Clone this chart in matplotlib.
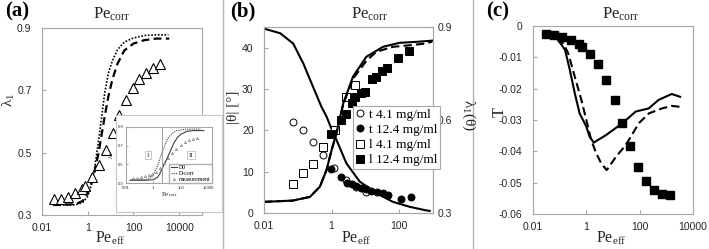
import matplotlib
matplotlib.use('Agg')
import matplotlib.pyplot as plt
from matplotlib.ticker import FixedLocator, FixedFormatter, NullLocator
from matplotlib.patches import Rectangle
from matplotlib.lines import Line2D

# ---------------- data ----------------
# panel (a): lambda_1 vs Pe_eff
a_meas_x = [0.0335, 0.068, 0.142, 0.278, 0.54, 0.76, 1.49, 3.1, 6.3, 12.3, 24, 47, 93, 181, 355, 740, 1450]
a_meas_y = [0.350, 0.352, 0.359, 0.370, 0.383, 0.394, 0.423, 0.460, 0.509, 0.564, 0.621, 0.669, 0.707, 0.736, 0.757, 0.773, 0.783]
a_dot_x = [0.03, 0.1, 0.3, 0.6, 1.0, 1.5, 2.0, 3.0, 4.0, 5.5, 8, 12, 20, 40, 100, 300, 1000, 3400]
a_dot_y = [0.332, 0.332, 0.333, 0.340, 0.360, 0.400, 0.450, 0.540, 0.610, 0.690, 0.755, 0.795, 0.830, 0.855, 0.868, 0.876, 0.878, 0.878]
a_dash_x = [0.03, 0.1, 0.3, 0.6, 1.0, 1.5, 2.0, 3.0, 4.0, 5.5, 8, 12, 20, 40, 100, 300, 1000, 3700]
a_dash_y = [0.332, 0.333, 0.335, 0.345, 0.370, 0.405, 0.440, 0.500, 0.555, 0.615, 0.680, 0.735, 0.785, 0.828, 0.850, 0.861, 0.866, 0.866]
# inset of (a): lambda_1 vs Pe_corr
i_d0_x = [0.02, 0.3, 1, 2, 3, 5, 10, 20, 30, 60, 100, 300, 1000, 5000]
i_d0_y = [0.330, 0.330, 0.335, 0.360, 0.400, 0.470, 0.560, 0.660, 0.720, 0.790, 0.820, 0.855, 0.862, 0.862]
i_dc_x = [0.02, 0.3, 0.7, 1, 2, 3, 5, 10, 15, 30, 50, 200, 1000, 3000]
i_dc_y = [0.330, 0.335, 0.360, 0.390, 0.480, 0.560, 0.650, 0.760, 0.800, 0.840, 0.860, 0.875, 0.878, 0.878]
i_meas_x = [0.03, 0.06, 0.12, 0.25, 0.5, 0.8, 1.5, 3, 6, 12, 25, 50, 100, 200, 400, 800, 1500]
i_meas_y = [0.350, 0.352, 0.359, 0.370, 0.383, 0.394, 0.423, 0.460, 0.509, 0.564, 0.621, 0.669, 0.707, 0.736, 0.757, 0.773, 0.783]
i_split_x = 4
i_regions = ['I', 'II']
i_region_x = [0.39, 575]

# panel (b): |theta| (left) and lambda_1(theta) (right) vs Pe_eff
t41_x = [0.07, 0.14, 0.28, 0.55, 1.2, 2.6, 5.4, 10.5]
t41_y = [21.9, 20.0, 17.2, 14.0, 11.0, 8.0, 6.2, 5.0]
t124_x = [0.95, 1.95, 2.9, 3.9, 5.4, 7.6, 10.3, 15, 22, 33, 46, 110, 220]
t124_y = [10.6, 8.6, 7.3, 7.0, 6.5, 6.0, 5.7, 5.4, 5.2, 4.8, 4.4, 3.3, 3.8]
l41_x = [0.07, 0.14, 0.28, 0.56, 1.25, 2.7, 5.0]
l41_y = [7.1, 9.6, 11.8, 15.9, 20.2, 28.0, 31.0]
l124_x = [0.95, 1.9, 2.6, 3.9, 5.0, 7.5, 9.8, 16, 21, 30, 45, 90, 200]
l124_y = [19.1, 22.6, 24.0, 26.5, 28.0, 29.0, 29.3, 32.3, 32.8, 34.3, 35.0, 37.6, 39.2]
b_theta_x = [0.01, 0.03, 0.073, 0.145, 0.28, 0.5, 0.71, 1.0, 1.39, 2.75, 6.8, 21, 65, 204, 570, 800]
b_theta_y = [44.6, 43.5, 41.0, 36.2, 30.6, 25.7, 23.3, 20.3, 17.7, 12.0, 7.6, 4.8, 2.7, 1.5, 0.7, 0.5]
b_lam_x = [0.01, 0.07, 0.23, 0.45, 0.71, 1.0, 1.39, 2.2, 4.3, 10.7, 33, 102, 316, 950]
b_lam_y = [0.336, 0.340, 0.352, 0.385, 0.439, 0.503, 0.557, 0.653, 0.740, 0.804, 0.836, 0.849, 0.852, 0.856]
b_lamd_x = [0.01, 0.07, 0.23, 0.45, 0.71, 1.0, 1.39, 2.2, 4.3, 10.7, 21, 65, 204, 630, 950]
b_lamd_y = [0.336, 0.340, 0.352, 0.385, 0.439, 0.503, 0.557, 0.650, 0.733, 0.791, 0.820, 0.836, 0.841, 0.847, 0.853]
b_labels = ['t 4.1 mg/ml', 't 12.4 mg/ml', 'l 4.1 mg/ml', 'l 12.4 mg/ml']

# panel (c): T vs Pe_eff
c_meas_x = [0.031, 0.062, 0.125, 0.255, 0.51, 0.69, 1.41, 2.78, 5.5, 11.5, 22.7, 44, 86, 175, 345, 690, 1360]
c_meas_y = [-0.0025, -0.0029, -0.0034, -0.0045, -0.0057, -0.0066, -0.0089, -0.0122, -0.0173, -0.0236, -0.0311, -0.0383, -0.0449, -0.0496, -0.0523, -0.0536, -0.0538]
c_sol_x = [0.031, 0.066, 0.12, 0.16, 0.24, 0.37, 0.56, 1.0, 1.32, 1.9, 5.5, 22.7, 71, 219, 510, 1590, 3300]
c_sol_y = [-0.0022, -0.0032, -0.0061, -0.0077, -0.0140, -0.0215, -0.0279, -0.0321, -0.0353, -0.0372, -0.0348, -0.0310, -0.0273, -0.0263, -0.0236, -0.0217, -0.0226]
c_dash_x = [0.031, 0.066, 0.136, 0.21, 0.37, 0.65, 1.0, 1.53, 2.34, 3.6, 5.8, 13, 30, 94, 220, 690, 1600, 3300]
c_dash_y = [-0.0022, -0.0032, -0.0055, -0.0087, -0.0162, -0.0236, -0.0300, -0.0364, -0.0406, -0.0438, -0.0460, -0.0417, -0.0380, -0.0310, -0.0279, -0.0263, -0.0255, -0.0258]

x_ticks_a = [0.01, 1, 100, 10000]
x_ticklabels_a = ['0.01', '1', '100', '10000']
x_ticks_b = [0.01, 1, 100]
x_ticklabels_b = ['0.01', '1', '100']

# ---------------- style ----------------
plt.rcParams['font.family'] = ['Liberation Sans', 'DejaVu Sans']
plt.rcParams['mathtext.fontset'] = 'custom'
plt.rcParams['mathtext.rm'] = 'Liberation Serif'
plt.rcParams['mathtext.it'] = 'Liberation Serif:italic'
SERIF = ['Liberation Serif', 'DejaVu Serif']
GRAY = '#a6a6a6'
TXT = '#262626'

W, H = 709, 249
fig = plt.figure(figsize=(W / 100, H / 100), dpi=100)


def rect(l, r, t, b):
    return [l / W, 1 - b / H, (r - l) / W, (b - t) / H]


def ftext(x, y, s, **kw):
    fig.text(x / W, 1 - y / H, s, **kw)


def style(ax, xt, xtl, yt, ytl, lsize=7.5, pad=7.5, xpad=5.5):
    ax.set_xscale('log')
    ax.xaxis.set_major_locator(FixedLocator(xt))
    ax.xaxis.set_major_formatter(FixedFormatter(xtl))
    ax.xaxis.set_minor_locator(NullLocator())
    ax.yaxis.set_major_locator(FixedLocator(yt))
    ax.yaxis.set_major_formatter(FixedFormatter(ytl))
    ax.yaxis.set_minor_locator(NullLocator())
    for s in ax.spines.values():
        s.set_color(GRAY)
        s.set_linewidth(0.8)
    ax.tick_params(direction='in', length=3, color=GRAY, labelsize=lsize,
                   labelcolor=TXT, pad=pad)
    ax.tick_params(axis='x', pad=xpad)


# ---------------- panel (a) ----------------
ax_a = fig.add_axes(rect(42, 202, 28, 215))
ax_a.plot(a_dot_x, a_dot_y, color='black', lw=1.2, ls=(0, (1, 1)))
ax_a.plot(a_dash_x, a_dash_y, color='black', lw=1.6, ls=(0, (3.5, 2)))
ax_a.plot(a_meas_x, a_meas_y, ls='none', marker='^', ms=6.5, mfc='white',
          mec='black', mew=0.8)
ax_a.set_xlim(0.01, 1e5)
ax_a.set_ylim(0.3, 0.9)
style(ax_a, x_ticks_a, x_ticklabels_a, [0.3, 0.5, 0.7, 0.9],
      ['0.3', '0.5', '0.7', '0.9'])

# inset of (a)
fig.patches.append(Rectangle((116 / W, 1 - 212 / H), 106 / W, 97 / H,
                             transform=fig.transFigure, facecolor='white',
                             edgecolor='#c8c8c8', lw=0.8, zorder=5))
ax_i = fig.add_axes(rect(126, 212, 127, 183), zorder=6)
ax_i.plot(i_d0_x, i_d0_y, color='#404040', lw=0.8, label='D0')
ax_i.plot(i_dc_x, i_dc_y, color='#404040', lw=0.8, ls=(0, (1, 1)), label='D-corr')
ax_i.plot(i_meas_x, i_meas_y, ls='none', marker='^', ms=1.6, mfc='white',
          mec='#606060', mew=0.4, label='measurement')
ax_i.axvline(i_split_x, color='#909090', lw=0.6)
ax_i.set_xlim(0.01, 2e4)
ax_i.set_ylim(0.3, 0.9)
style(ax_i, x_ticks_a, x_ticklabels_a, [0.3, 0.5, 0.7, 0.9],
      ['0.3', '0.5', '0.7', '0.9'], lsize=3, pad=2, xpad=2)
ax_i.tick_params(length=1.5)
ax_i.set_xlabel('Pe$_{\\rm corr}$', fontsize=5, family=SERIF, labelpad=0, color=TXT)
ax_i.set_ylabel('λ$_1$', fontsize=5, family=SERIF, labelpad=1, color=TXT)
box = dict(boxstyle='square,pad=0.25', fc='white', ec='#b0b0b0', lw=0.5)
for rx, rs in zip(i_region_x, i_regions):
    ax_i.text(rx, 0.6, rs, fontsize=5, family=SERIF, ha='center', va='center',
              bbox=box, color=TXT)
ax_i.legend(loc='lower right', prop={'family': SERIF, 'size': 4.2},
            handlelength=1.1, handletextpad=0.3, borderpad=0.25,
            labelspacing=0.1, frameon=True, fancybox=False,
            edgecolor='#b0b0b0', borderaxespad=0.0, framealpha=1)

# ---------------- panel (b) ----------------
ax_b = fig.add_axes(rect(264, 433, 27, 213))
ax_b.plot(b_theta_x, b_theta_y, color='black', lw=1.5)
ax_b.plot(t41_x, t41_y, ls='none', marker='o', ms=5, mfc='white', mec='black',
          mew=0.7, label=b_labels[0])
ax_b.plot(t124_x, t124_y, ls='none', marker='o', ms=5, mfc='black', mec='black',
          mew=0.7, label=b_labels[1])
ax_b.plot(l41_x, l41_y, ls='none', marker='s', ms=5.5, mfc='white', mec='black',
          mew=0.7, label=b_labels[2])
ax_b.plot(l124_x, l124_y, ls='none', marker='s', ms=5.5, mfc='black', mec='black',
          mew=0.7, label=b_labels[3])
ax_b.set_xlim(0.01, 1000)
ax_b.set_ylim(0, 45)
style(ax_b, x_ticks_b, x_ticklabels_b, [0, 10, 20, 30, 40],
      ['0', '10', '20', '30', '40'])
ax_b2 = ax_b.twinx()
ax_b2.plot(b_lam_x, b_lam_y, color='black', lw=1.5)
ax_b2.plot(b_lamd_x, b_lamd_y, color='black', lw=1.5, ls=(0, (4, 2)))
ax_b2.set_ylim(0.3, 0.9)
ax_b2.yaxis.set_major_locator(FixedLocator([0.3, 0.6, 0.9]))
ax_b2.yaxis.set_major_formatter(FixedFormatter(['0.3', '0.6', '0.9']))
ax_b2.yaxis.set_minor_locator(NullLocator())
for s in ax_b2.spines.values():
    s.set_color(GRAY)
    s.set_linewidth(0.8)
ax_b2.tick_params(direction='in', length=3, color=GRAY, labelsize=7.5,
                  labelcolor=TXT, pad=3)
leg = ax_b2.legend(*ax_b.get_legend_handles_labels(), loc='upper left',
                   bbox_to_anchor=(353 / W, 1 - 106 / H),
                   bbox_transform=fig.transFigure,
                   prop={'family': SERIF, 'size': 9.5}, handlelength=0.7,
                   handletextpad=0.3, borderpad=0.2, labelspacing=0.22,
                   frameon=True, fancybox=False, edgecolor=GRAY,
                   framealpha=1, borderaxespad=0)
leg.get_frame().set_linewidth(0.8)

# ---------------- panel (c) ----------------
ax_c = fig.add_axes(rect(533, 693, 26, 214))
ax_c.plot(c_sol_x, c_sol_y, color='black', lw=1.5)
ax_c.plot(c_dash_x, c_dash_y, color='black', lw=1.5, ls=(0, (4, 2)))
ax_c.plot(c_meas_x, c_meas_y, ls='none', marker='s', ms=6, mfc='black',
          mec='black')
ax_c.set_xlim(0.01, 10000)
ax_c.set_ylim(-0.06, 0)
style(ax_c, x_ticks_a, x_ticklabels_a,
      [0, -0.01, -0.02, -0.03, -0.04, -0.05, -0.06],
      ['0', '-0.01', '-0.02', '-0.03', '-0.04', '-0.05', '-0.06'])

# ---------------- separators ----------------
for xs in (223, 473):
    fig.add_artist(Line2D([xs / W, xs / W], [0, 1], transform=fig.transFigure,
                          color='#b4b4b4', lw=1.0))

# ---------------- texts ----------------
for x, s in ((17, '(a)'), (243, '(b)'), (498, '(c)')):
    ftext(x, 11, s, fontsize=15, fontweight='bold', family=SERIF,
          ha='center', va='center', color='black')
for x in (112, 370, 621):
    ftext(x, 14, 'Pe$_{\\rm corr}$', fontsize=12, family=SERIF,
          ha='center', va='center', color=TXT)
for x in (110, 356, 611):
    ftext(x, 238, 'Pe$_{\\rm eff}$', fontsize=11.5, family=SERIF,
          ha='center', va='center', color=TXT)
ftext(9, 100, 'λ$_1$', fontsize=11, family=SERIF, rotation=90,
      ha='center', va='center', color=TXT)
ftext(233, 107, '|θ| [°]', fontsize=11, family=SERIF, rotation=90,
      ha='center', va='center', color=TXT)
ftext(469, 115, 'λ$_1$(θ)', fontsize=11, family=SERIF, rotation=-90,
      ha='center', va='center', color=TXT)
ftext(500, 112, 'T', fontsize=12, family=SERIF, rotation=90,
      ha='center', va='center', color=TXT)

fig.savefig('out.png', dpi=100, facecolor='white')
